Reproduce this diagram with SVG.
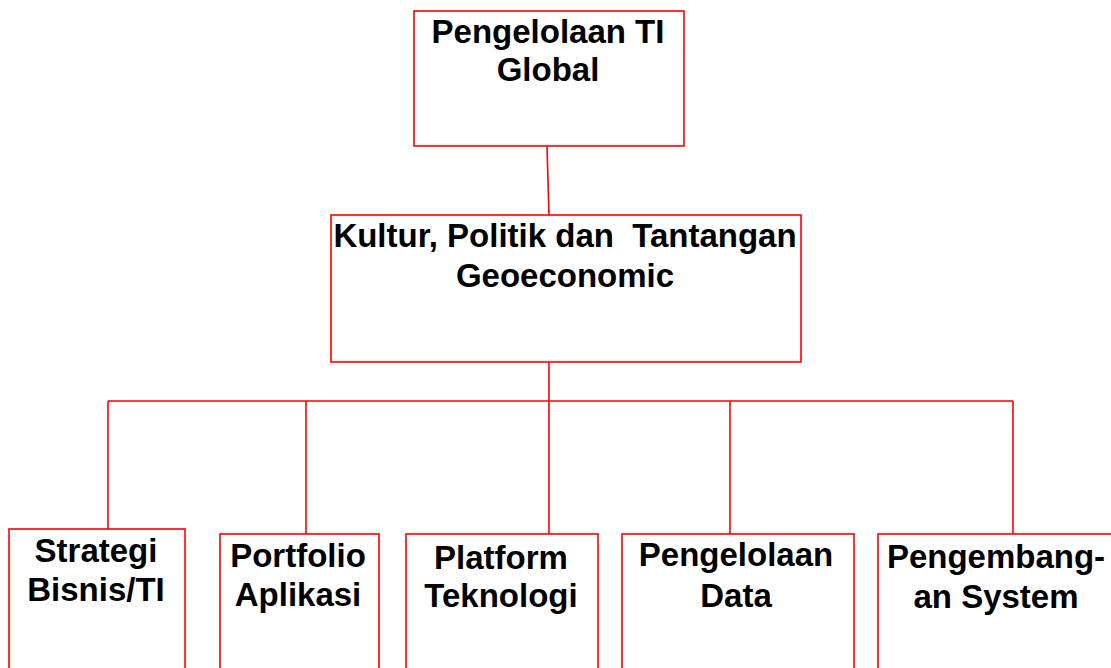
<svg xmlns="http://www.w3.org/2000/svg" width="1111" height="668" viewBox="0 0 1111 668">
<style>
.box{fill:#ffffff;stroke:#ff0000;stroke-width:1.6}
.conn{fill:none;stroke:#ff0000;stroke-width:1.6}
.lbl{font-family:"Liberation Sans",Arial,sans-serif;font-weight:bold;font-size:33px;fill:#000000;text-anchor:middle}
</style>
<rect width="1111" height="668" fill="#ffffff"/>
<g id="connectors">
<line class="conn" x1="547" y1="146" x2="549" y2="215"/>
<line class="conn" x1="549" y1="362" x2="549" y2="401"/>
<line class="conn" x1="108" y1="401" x2="1013" y2="401"/>
<line class="conn" x1="108" y1="401" x2="108" y2="529"/>
<line class="conn" x1="306" y1="401" x2="306" y2="534"/>
<line class="conn" x1="549" y1="401" x2="549" y2="534"/>
<line class="conn" x1="730" y1="401" x2="730" y2="534"/>
<line class="conn" x1="1013" y1="401" x2="1013" y2="534"/>
</g>
<g id="n-global">
<rect class="box" x="414" y="11" width="270" height="135"/>
<text class="lbl" x="548" y="43">Pengelolaan TI</text>
<text class="lbl" x="548" y="81">Global</text>
</g>
<g id="n-kultur">
<rect class="box" x="331" y="215" width="470" height="147"/>
<text class="lbl" x="565" y="247" xml:space="preserve">Kultur, Politik dan  Tantangan</text>
<text class="lbl" x="565" y="287">Geoeconomic</text>
</g>
<g id="n-strategi">
<rect class="box" x="9" y="529" width="176" height="160"/>
<text class="lbl" x="96" y="562">Strategi</text>
<text class="lbl" x="96" y="601">Bisnis/TI</text>
</g>
<g id="n-portfolio">
<rect class="box" x="220" y="534" width="159" height="160"/>
<text class="lbl" x="298" y="567">Portfolio</text>
<text class="lbl" x="298" y="606">Aplikasi</text>
</g>
<g id="n-platform">
<rect class="box" x="406" y="534" width="192" height="160"/>
<text class="lbl" x="501" y="569">Platform</text>
<text class="lbl" x="501" y="607">Teknologi</text>
</g>
<g id="n-data">
<rect class="box" x="622" y="534" width="232" height="160"/>
<text class="lbl" x="736" y="566">Pengelolaan</text>
<text class="lbl" x="736" y="607">Data</text>
</g>
<g id="n-system">
<rect class="box" x="878" y="534" width="240" height="160"/>
<text class="lbl" x="996" y="568">Pengembang-</text>
<text class="lbl" x="996" y="608">an System</text>
</g>
</svg>
